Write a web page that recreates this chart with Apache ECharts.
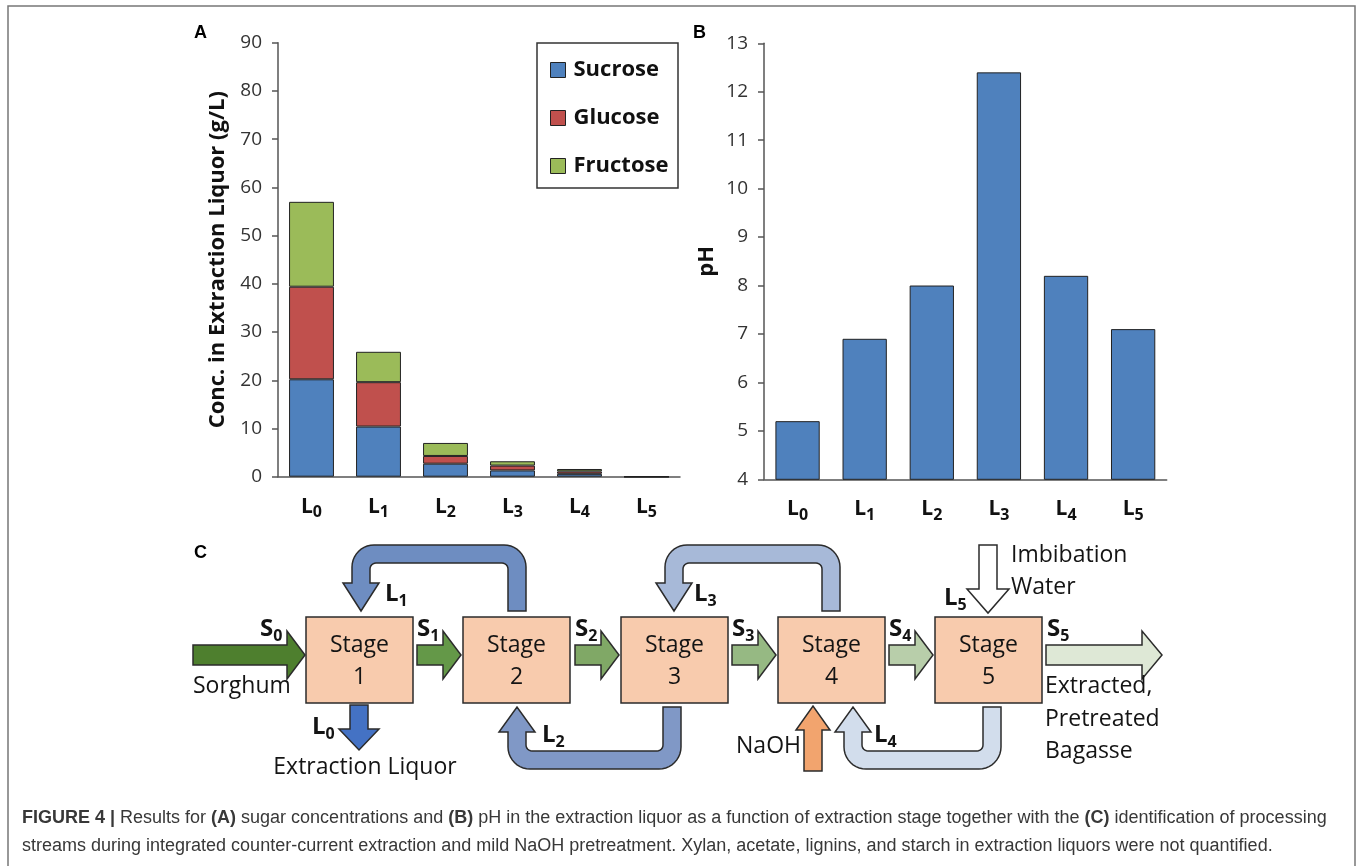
<!DOCTYPE html>
<html><head><meta charset="utf-8">
<script src="https://cdn.jsdelivr.net/npm/echarts@6/dist/echarts.min.js"></script>
<style>html,body{margin:0;padding:0;background:#fff;}#c{width:1360px;height:866px;}</style>
</head><body><div id="c"></div>
<script>
// ---------- data ----------
const categories = ['L0', 'L1', 'L2', 'L3', 'L4', 'L5'];
const sucrose  = [20.2, 10.4, 2.7, 1.3, 0.6, 0];
const glucose  = [19.2, 9.2, 1.6, 1.0, 0.5, 0];
const fructose = [17.6, 6.3, 2.7, 0.9, 0.5, 0];
const pHValues = [5.2, 6.9, 8.0, 12.4, 8.2, 7.1];
const concAxis = { min: 0, max: 90, interval: 10 };
const pHAxis = { min: 4, max: 13, interval: 1 };
const seriesNames = ['Sucrose', 'Glucose', 'Fructose'];
const stageNames = ['1', '2', '3', '4', '5'];

// ---------- styles ----------
const FONT = "'Open Sans', 'Noto Sans', sans-serif";
const C_SUC = '#4F81BD', C_GLU = '#C0504D', C_FRU = '#9BBB59';
const AXC = '#555';

const xLabel = {
  formatter: v => '{m|L}{s|' + v.slice(1) + '}',
  margin: 16, interval: 0,
  rich: {
    m: { fontSize: 21, fontWeight: 'bold', fontFamily: FONT, color: '#111', lineHeight: 28, verticalAlign: 'middle' },
    s: { fontSize: 16, fontWeight: 'bold', fontFamily: FONT, color: '#111', lineHeight: 18, verticalAlign: 'bottom' }
  }
};
function catAxis(gi) {
  return {
    type: 'category', gridIndex: gi, data: categories,
    axisLine: { lineStyle: { color: AXC, width: 1.5 } },
    axisTick: { length: 7, interval: 0, lineStyle: { color: AXC, width: 1.5 } },
    axisLabel: xLabel
  };
}
function valAxis(gi, rng, name, gap) {
  return {
    type: 'value', gridIndex: gi, min: rng.min, max: rng.max, interval: rng.interval,
    name: name, nameLocation: 'middle', nameGap: gap,
    nameTextStyle: { fontSize: 22, fontWeight: 'bold', fontFamily: FONT, color: '#111' },
    axisLine: { show: true, lineStyle: { color: AXC, width: 1.5 } },
    axisTick: { show: true, length: 6, lineStyle: { color: AXC, width: 1.5 } },
    splitLine: { show: false },
    axisLabel: { fontSize: 19, fontFamily: FONT, color: '#333', margin: 16 }
  };
}
const barBorder = { borderColor: '#222', borderWidth: 1 };

// ---------- diagram helpers ----------
function arc(cx, cy, r, a0, a1, n) {
  const p = [];
  for (let i = 0; i <= n; i++) {
    const a = (a0 + (a1 - a0) * i / n) * Math.PI / 180;
    p.push([cx + r * Math.cos(a), cy + r * Math.sin(a)]);
  }
  return p;
}
function uArrow(o, mirror) {
  const f = mirror ? -1 : 1;
  const xs = o.xs, xe = o.xe, h = o.h, H = o.H, Ro = o.Ro, Ri = o.Ri;
  const ys = o.ys * f, yc = o.yc * f, yb = o.yb * f, yt = o.yt * f;
  let p = [[xs + h, ys]];
  p = p.concat(arc(xs + h - Ro, yc - h + Ro, Ro, 0, -90, 10));
  p = p.concat(arc(xe - h + Ro, yc - h + Ro, Ro, -90, -180, 10));
  p.push([xe - h, yb], [xe - H, yb], [xe, yt], [xe + H, yb], [xe + h, yb]);
  p = p.concat(arc(xe + h + Ri, yc + h + Ri, Ri, 180, 270, 6));
  p = p.concat(arc(xs - h - Ri, yc + h + Ri, Ri, 270, 360, 6));
  p.push([xs - h, ys]);
  return p.map(q => [q[0], q[1] * f]);
}
function hArrow(x0, xh, xt, cy, h, H) {
  return [[x0, cy - h], [xh, cy - h], [xh, cy - H], [xt, cy], [xh, cy + H], [xh, cy + h], [x0, cy + h]];
}
function vArrow(cx, y0, yh, yt, h, H) {
  return [[cx - h, y0], [cx - h, yh], [cx - H, yh], [cx, yt], [cx + H, yh], [cx + h, yh], [cx + h, y0]];
}
const STROKE = '#2b2b2b';
function poly(points, fill) {
  return { type: 'polygon', shape: { points: points }, style: { fill: fill, stroke: STROKE, lineWidth: 1.5 }, z: 10 };
}
function txt(x, y, text, opts) {
  opts = opts || {};
  return { type: 'text', x: x, y: y, z: 20, style: Object.assign({
    text: text, fontFamily: FONT, fontSize: 23, fill: '#141414',
    align: 'left', verticalAlign: 'middle'
  }, opts) };
}
function subLabel(x, y, main, sub) {
  return txt(x, y, '{m|' + main + '}{s|' + sub + '}', {
    rich: {
      m: { fontSize: 24, fontWeight: 'bold', fontFamily: FONT, fill: '#141414', lineHeight: 30, verticalAlign: 'middle' },
      s: { fontSize: 16, fontWeight: 'bold', fontFamily: FONT, fill: '#141414', lineHeight: 20, verticalAlign: 'bottom' }
    }
  });
}

const boxX = [306, 463, 621, 778, 935];
const boxY = 617, boxW = 107, boxH = 86;
const g = [];
// outer frame
g.push({ type: 'rect', shape: { x: 8, y: 6, width: 1347, height: 900 }, style: { fill: 'none', stroke: '#777', lineWidth: 1.5 }, z: 1 });
// panel letters
const LET = { fontFamily: 'Liberation Sans, Arial', fontWeight: 'bold', fontSize: 18, fill: '#000' };
g.push(txt(194, 33, 'A', LET));
g.push(txt(693, 33, 'B', LET));
g.push(txt(194, 553, 'C', LET));
// legend frame
g.push({ type: 'rect', shape: { x: 537, y: 43, width: 141, height: 145 }, style: { fill: '#fff', stroke: '#333', lineWidth: 1.5 }, z: 2 });

// loops
g.push(poly(uArrow({ xs: 517, ys: 611, yc: 554, xe: 361, yb: 583, yt: 611, h: 9, H: 18, Ro: 22, Ri: 6 }), '#6E8DC1'));
g.push(poly(uArrow({ xs: 831, ys: 611, yc: 554, xe: 674, yb: 583, yt: 611, h: 9, H: 18, Ro: 22, Ri: 6 }), '#A7B9D8'));
g.push(poly(uArrow({ xs: 672, ys: 707, yc: 760, xe: 517, yb: 732, yt: 707, h: 9, H: 18, Ro: 22, Ri: 6 }, true), '#8098C6'));
g.push(poly(uArrow({ xs: 992, ys: 707, yc: 760, xe: 853, yb: 732, yt: 707, h: 9, H: 18, Ro: 22, Ri: 6 }, true), '#D2DDEC'));
// straight arrows
g.push(poly(hArrow(193, 287, 305, 655, 10, 24), '#4E7F2E'));
g.push(poly(hArrow(417, 443, 461, 655, 10, 24), '#649848'));
g.push(poly(hArrow(575, 601, 619, 655, 10, 24), '#80A866'));
g.push(poly(hArrow(732, 758, 776, 655, 10, 24), '#96B983'));
g.push(poly(hArrow(889, 915, 933, 655, 10, 24), '#B8CEAA'));
g.push(poly(hArrow(1046, 1142, 1162, 655, 10, 24), '#DEE8D6'));
g.push(poly(vArrow(359, 705, 729, 750, 9, 20), '#4472C4'));
g.push(poly(vArrow(813, 771, 730, 706, 9, 17), '#F2A46E'));
g.push(poly(vArrow(988, 545, 589, 613, 9, 21), '#FFFFFF'));
// stage boxes
boxX.forEach((x, i) => {
  g.push({ type: 'rect', shape: { x: x, y: boxY, width: boxW, height: boxH }, style: { fill: '#F8CBAD', stroke: STROKE, lineWidth: 1.5 }, z: 12 });
  g.push(txt(x + boxW / 2, 645, 'Stage', { align: 'center' }));
  g.push(txt(x + boxW / 2, 677, stageNames[i], { align: 'center' }));
});
// stream labels
g.push(subLabel(260, 629, 'S', '0'));
g.push(subLabel(417, 629, 'S', '1'));
g.push(subLabel(575, 629, 'S', '2'));
g.push(subLabel(732, 629, 'S', '3'));
g.push(subLabel(889, 629, 'S', '4'));
g.push(subLabel(1047, 629, 'S', '5'));
g.push(subLabel(385, 594, 'L', '1'));
g.push(subLabel(694, 594, 'L', '3'));
g.push(subLabel(542, 735, 'L', '2'));
g.push(subLabel(874, 735, 'L', '4'));
g.push(subLabel(312, 727, 'L', '0'));
g.push(subLabel(944, 598, 'L', '5'));
// texts
g.push(txt(193, 686, 'Sorghum'));
g.push(txt(365, 767, 'Extraction Liquor', { align: 'center' }));
g.push(txt(801, 746, 'NaOH', { align: 'right' }));
g.push(txt(1011, 555, 'Imbibation'));
g.push(txt(1011, 587, 'Water'));
g.push(txt(1045, 686, 'Extracted,'));
g.push(txt(1045, 719, 'Pretreated'));
g.push(txt(1045, 751, 'Bagasse'));
// caption
const capRich = {
  b: { fontFamily: 'Liberation Sans, Arial', fontWeight: 'bold', fontSize: 18, fill: '#383838' },
  r: { fontFamily: 'Liberation Sans, Arial', fontSize: 18, fill: '#383838' }
};
g.push(txt(22, 818, '{b|FIGURE 4 |}{r| Results for }{b|(A)}{r| sugar concentrations and }{b|(B)}{r| pH in the extraction liquor as a function of extraction stage together with the }{b|(C)}{r| identification of processing}', { rich: capRich }));
g.push(txt(22, 846, '{r|streams during integrated counter-current extraction and mild NaOH pretreatment. Xylan, acetate, lignins, and starch in extraction liquors were not quantified.}', { rich: capRich }));

// ---------- chart ----------
const chart = echarts.init(document.getElementById('c'), null, { renderer: 'canvas' });
chart.setOption({
  backgroundColor: '#fff',
  animation: false,
  grid: [
    { left: 278, top: 42.7, width: 402, height: 434 },
    { left: 764, top: 43.3, width: 402.7, height: 436 }
  ],
  xAxis: [catAxis(0), catAxis(1)],
  yAxis: [
    valAxis(0, concAxis, 'Conc. in Extraction Liquor (g/L)', 49),
    valAxis(1, pHAxis, 'pH', 46)
  ],
  legend: {
    data: seriesNames, orient: 'vertical', left: 545, top: 54,
    itemWidth: 15, itemHeight: 15, itemGap: 26, z: 5,
    itemStyle: { borderColor: '#222', borderWidth: 1 },
    textStyle: { fontSize: 22, fontWeight: 'bold', fontFamily: FONT, color: '#111', padding: [0, 0, 0, 3] },
    icon: 'rect'
  },
  series: [
    { name: seriesNames[0], type: 'bar', stack: 'sugar', xAxisIndex: 0, yAxisIndex: 0, data: sucrose, barCategoryGap: '33%', itemStyle: Object.assign({ color: C_SUC }, barBorder) },
    { name: seriesNames[1], type: 'bar', stack: 'sugar', xAxisIndex: 0, yAxisIndex: 0, data: glucose, barCategoryGap: '33%', itemStyle: Object.assign({ color: C_GLU }, barBorder) },
    { name: seriesNames[2], type: 'bar', stack: 'sugar', xAxisIndex: 0, yAxisIndex: 0, data: fructose, barCategoryGap: '33%', itemStyle: Object.assign({ color: C_FRU }, barBorder) },
    { name: 'pH', type: 'bar', xAxisIndex: 1, yAxisIndex: 1, data: pHValues, barCategoryGap: '34%', itemStyle: Object.assign({ color: C_SUC }, barBorder) }
  ],
  graphic: { elements: g }
});
</script></body></html>
